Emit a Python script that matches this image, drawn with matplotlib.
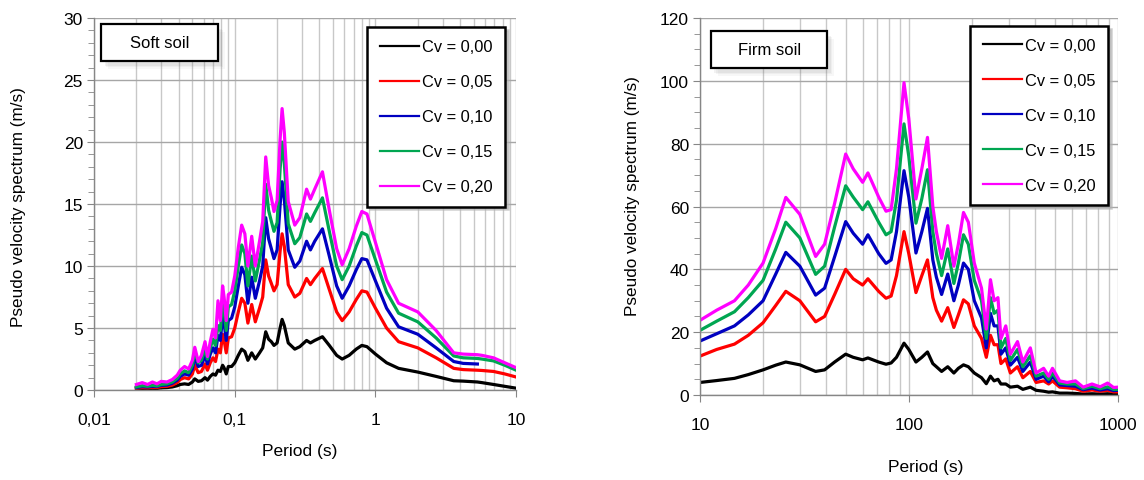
import numpy as np
import matplotlib
matplotlib.use('Agg')
import matplotlib.pyplot as plt
from matplotlib.lines import Line2D
from matplotlib.patches import Rectangle

plt.rcParams['font.family'] = ['Liberation Sans', 'DejaVu Sans']

labels = ['Cv = 0,00', 'Cv = 0,05', 'Cv = 0,10', 'Cv = 0,15', 'Cv = 0,20']
colors = ['#000000', '#ff0000', '#0000c0', '#00a651', '#ff00ff']

# ---- soft soil (left) ----
soft_T = [0.020, 0.022, 0.024, 0.026, 0.028, 0.030, 0.033, 0.036, 0.039, 0.041,
          0.044, 0.047, 0.050, 0.052, 0.055, 0.058, 0.0615, 0.064, 0.067, 0.070,
          0.073, 0.076, 0.079, 0.082, 0.084, 0.087, 0.090, 0.095, 0.100, 0.106,
          0.112, 0.118, 0.124, 0.132, 0.140, 0.150, 0.158, 0.166, 0.174, 0.182,
          0.190, 0.200, 0.210, 0.217, 0.225, 0.240, 0.267, 0.290, 0.324, 0.345,
          0.370, 0.420, 0.470, 0.530, 0.580, 0.650, 0.730, 0.800, 0.870, 1.00,
          1.20, 1.46, 2.0, 2.7, 3.6, 4.2, 5.3, 5.7, 6.9, 8.3, 10.0]

soft_00 = [0.10, 0.12, 0.12, 0.14, 0.13, 0.18, 0.20, 0.25, 0.35, 0.45,
           0.50, 0.45, 0.65, 0.90, 0.70, 0.75, 1.00, 0.80, 1.10, 1.30,
           1.20, 1.60, 1.50, 2.00, 1.80, 1.30, 1.90, 1.90, 2.20, 2.80,
           3.30, 3.10, 2.40, 3.00, 2.50, 3.00, 3.40, 4.70, 4.10, 3.90,
           3.60, 3.80, 5.00, 5.70, 5.20, 3.80, 3.30, 3.50, 4.00, 3.80,
           4.00, 4.30, 3.60, 2.80, 2.50, 2.80, 3.30, 3.60, 3.50, 2.90,
           2.20, 1.75, 1.45, 1.10, 0.75, 0.72, 0.65, 0.60, 0.45, 0.30, 0.15]

soft_05 = [0.15, 0.20, 0.18, 0.22, 0.20, 0.28, 0.30, 0.40, 0.60, 0.85,
           1.00, 0.90, 1.30, 2.00, 1.40, 1.50, 2.10, 1.60, 2.20, 2.60,
           2.30, 3.30, 3.00, 4.50, 4.00, 3.00, 4.20, 4.30, 5.00, 6.30,
           7.40, 7.00, 5.40, 6.90, 5.50, 6.60, 7.50, 10.5, 9.20, 8.60,
           8.00, 8.50, 11.2, 12.6, 11.6, 8.50, 7.50, 7.80, 9.00, 8.50,
           9.00, 9.80, 8.10, 6.30, 5.60, 6.30, 7.30, 8.00, 7.90, 6.60,
           5.00, 3.90, 3.40, 2.60, 1.75, 1.65, 1.60, 1.58, 1.50, 1.30, 1.05]

soft_10 = [0.20, 0.28, 0.25, 0.30, 0.28, 0.38, 0.40, 0.55, 0.80, 1.10,
           1.30, 1.20, 1.70, 2.60, 1.90, 2.00, 2.80, 2.10, 2.90, 3.40,
           3.00, 4.40, 4.00, 6.00, 5.40, 4.00, 5.60, 5.80, 6.70, 8.40,
           9.90, 9.30, 7.00, 9.10, 7.40, 8.80, 10.0, 13.9, 12.2, 11.4,
           10.6, 11.3, 14.9, 16.8, 15.4, 11.3, 9.90, 10.4, 12.0, 11.3,
           12.0, 13.0, 10.8, 8.40, 7.40, 8.40, 9.70, 10.6, 10.5, 8.80,
           6.60, 5.10, 4.50, 3.40, 2.30, 2.15, 2.10, np.nan, np.nan, np.nan, np.nan]

soft_15 = [0.25, 0.35, 0.30, 0.38, 0.33, 0.45, 0.50, 0.65, 0.95, 1.30,
           1.55, 1.40, 2.00, 3.10, 2.20, 2.40, 3.30, 2.50, 3.40, 4.10,
           3.60, 5.20, 4.80, 7.20, 6.40, 4.80, 6.70, 6.90, 8.00, 10.0,
           11.7, 11.0, 8.40, 10.8, 8.80, 10.5, 11.9, 16.6, 14.5, 13.6,
           12.8, 13.5, 17.8, 20.0, 18.3, 13.4, 11.8, 12.3, 14.2, 13.6,
           14.3, 15.5, 12.8, 10.0, 8.90, 10.0, 11.6, 12.7, 12.5, 10.5,
           7.90, 6.20, 5.50, 4.20, 2.75, 2.60, 2.55, 2.50, 2.35, 2.00, 1.60]

soft_20 = [0.45, 0.60, 0.45, 0.65, 0.50, 0.70, 0.65, 0.85, 1.20, 1.60,
           1.90, 1.70, 2.40, 3.45, 2.30, 2.80, 3.90, 2.70, 3.90, 4.90,
           4.20, 7.20, 5.60, 8.40, 7.50, 5.60, 7.70, 7.90, 9.20, 11.5,
           13.3, 12.6, 10.0, 12.4, 10.0, 12.0, 13.6, 18.8, 16.5, 15.5,
           14.4, 15.3, 20.2, 22.7, 20.8, 15.2, 13.3, 13.9, 16.2, 15.4,
           16.2, 17.6, 14.5, 11.4, 10.1, 11.4, 13.2, 14.4, 14.2, 11.9,
           8.90, 7.00, 6.30, 4.80, 3.00, 2.90, 2.85, 2.80, 2.60, 2.20, 1.80]

soft_xticks = [0.01, 0.1, 1, 10]
soft_xticklabels = ['0,01', '0,1', '1', '10']
soft_yticks = [0, 5, 10, 15, 20, 25, 30]

# ---- firm soil (right) ----
firm_T = [10, 12, 14.6, 17, 20, 23, 25.7, 30, 35.7, 39.4,
          44, 49.7, 54, 59.9, 63.5, 71.5, 77.5, 82, 87, 94.5,
          99.6, 107.8, 115, 122.4, 129.8, 135, 143, 153, 163.7, 172,
          182, 192, 205, 222, 234, 245, 255, 266, 275, 290,
          305, 330, 350, 380, 405, 440, 465, 485, 525, 570,
          625, 680, 750, 820, 890, 950, 1000]

firm_00 = [4.0, 4.6, 5.3, 6.5, 8.0, 9.5, 10.5, 9.6, 7.5, 8.0,
           10.5, 13.0, 12.0, 11.2, 11.8, 10.5, 9.8, 10.2, 12.0, 16.5,
           14.5, 10.5, 12.0, 13.7, 10.0, 9.0, 7.5, 9.0, 7.0, 8.5,
           9.6, 9.0, 7.0, 5.5, 3.6, 6.0, 4.5, 5.0, 3.5, 3.5,
           2.5, 2.8, 1.8, 2.5, 1.5, 1.2, 0.9, 1.0, 0.6, 0.6,
           0.5, 0.3, 0.4, 0.3, 0.4, 0.3, 0.3]

firm_05 = [12.4, 14.5, 16.2, 19.0, 23.0, 28.5, 33.0, 30.0, 23.3, 25.0,
           32.0, 40.0, 37.0, 35.0, 37.0, 33.0, 30.8, 31.5, 38.0, 52.0,
           45.0, 32.6, 38.0, 43.0, 31.0, 27.0, 23.5, 27.8, 21.5, 25.5,
           30.3, 29.0, 22.0, 18.0, 12.0, 19.0, 16.0, 16.0, 10.0, 11.5,
           7.0, 9.0, 5.5, 7.5, 4.0, 4.5, 3.5, 4.5, 2.5, 2.3,
           2.0, 1.2, 1.6, 1.2, 1.5, 1.0, 1.0]

firm_10 = [17.2, 19.5, 22.0, 25.5, 30.0, 38.5, 45.4, 41.0, 31.8, 34.0,
           44.0, 55.2, 51.5, 48.0, 51.0, 45.0, 41.9, 43.0, 52.0, 71.4,
           63.0, 45.2, 52.0, 59.4, 43.0, 37.5, 32.0, 38.5, 30.0, 35.0,
           42.0, 40.0, 30.0, 24.5, 15.0, 26.0, 22.0, 22.0, 13.0, 15.0,
           9.5, 12.0, 7.5, 10.5, 5.0, 6.0, 4.2, 6.0, 3.2, 3.0,
           2.8, 1.7, 2.2, 1.6, 2.0, 1.4, 1.5]

firm_15 = [20.6, 23.5, 26.5, 31.0, 36.5, 46.5, 55.0, 50.0, 38.4, 41.0,
           53.5, 66.6, 63.0, 59.0, 61.5, 55.0, 51.0, 52.0, 62.0, 86.3,
           76.0, 54.7, 62.5, 71.7, 52.0, 45.0, 38.0, 46.5, 35.5, 42.0,
           51.0, 48.0, 36.5, 30.0, 18.0, 31.0, 26.0, 27.0, 15.0, 18.0,
           11.0, 14.5, 9.0, 12.5, 6.0, 7.0, 5.0, 7.0, 3.8, 3.5,
           3.5, 2.0, 2.8, 2.0, 2.6, 1.8, 1.8]

firm_20 = [23.8, 27.0, 30.0, 35.0, 42.0, 53.0, 62.9, 57.5, 44.1, 48.0,
           61.0, 76.7, 72.0, 67.7, 70.7, 63.0, 58.5, 59.0, 72.0, 99.4,
           88.0, 62.4, 72.0, 82.0, 60.0, 52.0, 43.5, 53.9, 41.0, 48.0,
           58.1, 55.0, 42.0, 34.0, 21.0, 36.7, 30.0, 31.0, 18.0, 22.0,
           13.0, 17.0, 10.5, 15.0, 7.0, 8.5, 6.0, 8.5, 4.5, 4.0,
           4.5, 2.5, 3.5, 2.6, 3.8, 2.4, 2.5]

firm_xticks = [10, 100, 1000]
firm_xticklabels = ['10', '100', '1000']
firm_yticks = [0, 20, 40, 60, 80, 100, 120]


def spectrum_panel(ax, T, series, xlim, xticks, xticklabels, yticks, yminor,
                   title, title_xy, leg_anchor):
    for vals, c in zip(series, colors):
        ax.plot(T, vals, color=c, lw=2.3, solid_joinstyle='round')

    ax.set_xscale('log')
    ax.set_xlim(xlim)
    ax.set_ylim(yticks[0], yticks[-1])
    ax.set_xticks(xticks)
    ax.set_xticklabels(xticklabels)
    ax.set_yticks(yticks)
    ax.set_yticks(np.arange(yticks[0], yticks[-1], yminor), minor=True)

    ax.grid(True, which='major', axis='y', color='#a6a6a6', lw=1.0)
    ax.grid(True, which='both', axis='x', color='#c8c8c8', lw=1.0)
    ax.set_axisbelow(True)
    for s in ['top', 'right']:
        ax.spines[s].set_visible(False)
    for s in ['left', 'bottom']:
        ax.spines[s].set_color('#868686')
        ax.spines[s].set_linewidth(1.0)

    ax.tick_params(axis='y', which='major', direction='out', length=5,
                   color='#868686', labelsize=12.5, pad=3)
    ax.tick_params(axis='y', which='minor', direction='out', length=4,
                   color='#868686')
    ax.tick_params(axis='x', which='major', direction='out', length=5,
                   color='#868686', labelsize=12.5, pad=11)
    ax.tick_params(axis='x', which='minor', length=0)

    ax.set_xlabel('Period (s)', fontsize=12.5)
    ax.set_ylabel('Pseudo velocity spectrum (m/s)', fontsize=12.3)

    # title box with a soft shadow
    (x0, y0, w, h) = title_xy
    for k, a in enumerate([0.10, 0.08, 0.06]):
        ax.add_patch(Rectangle((x0 + 0.008 + 0.004 * k, y0 - 0.012 - 0.004 * k), w, h,
                               transform=ax.transAxes, facecolor='#808080',
                               edgecolor='none', alpha=a, zorder=4))
    ax.add_patch(Rectangle((x0, y0), w, h, transform=ax.transAxes,
                           facecolor='white', edgecolor='black', lw=1.6, zorder=5))
    ax.text(x0 + w / 2, y0 + h / 2, title, transform=ax.transAxes,
            ha='center', va='center', fontsize=12, zorder=6)

    handles = [Line2D([], [], color=c, lw=1.6) for c in colors]
    leg = ax.legend(handles, labels, loc='upper right', bbox_to_anchor=leg_anchor,
                    frameon=True, fancybox=False, shadow={'color': '#b0b0b0', 'alpha': 0.6},
                    edgecolor='black', fontsize=11.8, handlelength=2.4,
                    handletextpad=0.2, labelspacing=1.22, borderpad=0.75,
                    borderaxespad=0.0)
    leg.get_frame().set_linewidth(1.8)
    leg.set_zorder(7)
    return ax


fig = plt.figure(figsize=(11.44, 4.81), dpi=100)
ax1 = fig.add_axes([0.0822, 0.187, 0.369, 0.7734])
ax2 = fig.add_axes([0.612, 0.1767, 0.3654, 0.7838])

spectrum_panel(ax1, soft_T, [soft_00, soft_05, soft_10, soft_15, soft_20],
               (0.01, 10), soft_xticks, soft_xticklabels, soft_yticks, 1,
               'Soft soil', (0.017, 0.884, 0.277, 0.099), (0.974, 0.976))
spectrum_panel(ax2, firm_T, [firm_00, firm_05, firm_10, firm_15, firm_20],
               (10, 1000), firm_xticks, firm_xticklabels, firm_yticks, 5,
               'Firm soil', (0.026, 0.867, 0.278, 0.098), (0.976, 0.979))

ax1.xaxis.set_label_coords(0.488, -0.142)
ax1.yaxis.set_label_coords(-0.16, 0.495)
ax2.xaxis.set_label_coords(0.54, -0.170)
ax2.yaxis.set_label_coords(-0.143, 0.53)

fig.savefig('out.png', dpi=100)
